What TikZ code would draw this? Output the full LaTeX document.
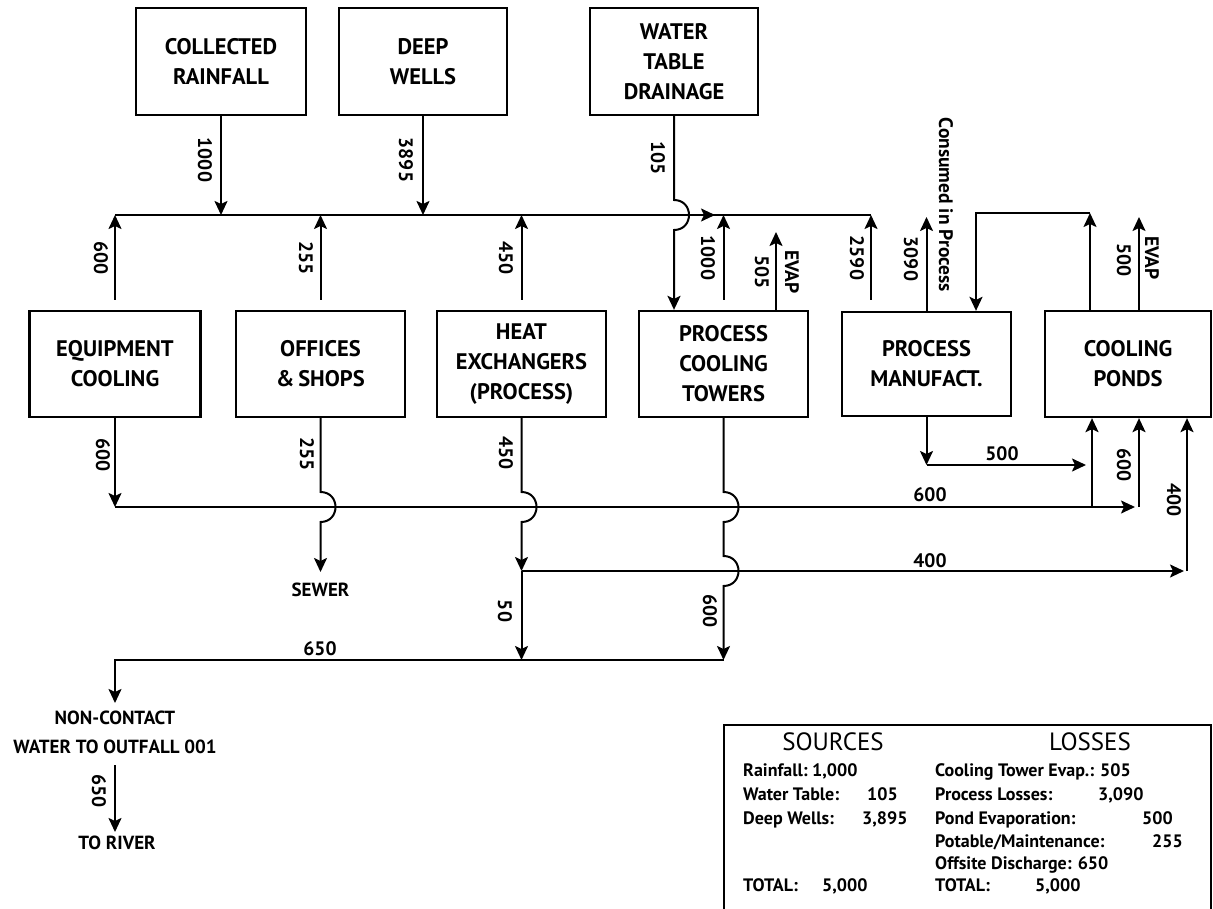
\documentclass[tikz,border=0pt]{standalone}
\usepackage{fontspec}
\setmainfont{PT Sans}
\usetikzlibrary{arrows.meta,calc}
\begin{document}
\begin{tikzpicture}[x=1pt,y=-1pt,
  box/.style={draw,line width=2.3pt,inner sep=0pt,align=center,font=\bfseries\fontsize{22.5}{30}\selectfont},
  arr/.style={line width=2pt,-{Stealth[length=14pt,width=13pt,inset=3pt]}},
  ln/.style={line width=2pt},
  num/.style={font=\bfseries\fontsize{19.5}{24}\selectfont,inner sep=0pt},
  vnum/.style={num,rotate=-90},
  lbl/.style={font=\bfseries\fontsize{19}{29}\selectfont,align=center,inner sep=0pt},
  leg/.style={font=\bfseries\fontsize{18}{22}\selectfont,anchor=base west,inner sep=0pt},
  leghead/.style={font=\fontsize{25}{30}\selectfont,inner sep=0pt},
]
\useasboundingbox (0,0) rectangle (1213,909);

% ---------- boxes ----------
\node[box,minimum width=170pt,minimum height=107pt] (rain)  at (221,61.5) {COLLECTED\\RAINFALL};
\node[box,minimum width=168pt,minimum height=107pt] (wells) at (423,61.5) {DEEP\\WELLS};
\node[box,minimum width=168pt,minimum height=107pt] (wtd)   at (674,61.5) {WATER\\TABLE\\DRAINAGE};

\node[box,minimum width=171pt,minimum height=106pt] (eqc) at (115,364)   {EQUIPMENT\\COOLING};
\node[box,minimum width=169pt,minimum height=106pt] (off) at (320.5,364) {OFFICES\\\&\,SHOPS};
\node[box,minimum width=169pt,minimum height=106pt] (hex) at (521.5,364) {HEAT\\EXCHANGERS\\(PROCESS)};
\node[box,minimum width=169pt,minimum height=106pt] (pct) at (723.5,364) {PROCESS\\COOLING\\TOWERS};
\node[box,minimum width=169pt,minimum height=104pt] (pm)  at (926.5,364) {PROCESS\\MANUFACT.};
\node[box,minimum width=166pt,minimum height=106pt] (cp)  at (1128,364)  {COOLING\\PONDS};

% ---------- header line ----------
\coordinate (hL) at (115,215);
\coordinate (hR) at (871,215);
\coordinate (hA0) at (692,215);
\coordinate (hA) at (715,215);
\draw[ln] (hL) -- (hR);
\draw[arr] (hA0) -- (hA);

\coordinate (rainJ) at (221,215);
\coordinate (wellsJ) at (423,215);
\draw[arr] (rain.south) -- (rainJ);
\draw[arr] (wells.south) -- (wellsJ);

\coordinate (eqcU) at (115,300);
\coordinate (offU) at (320.5,300);
\coordinate (offJ) at (320.5,215);
\coordinate (hexU) at (521.5,300);
\coordinate (hexJ) at (521.5,215);
\draw[arr] (eqcU) -- (hL);
\draw[arr] (offU) -- (offJ);
\draw[arr] (hexU) -- (hexJ);

% water table drainage, jumping over header
\coordinate (wtdA) at (674,200);
\coordinate (wtdB) at (674,230);
\coordinate (pctIn) at (pct.north -| wtd.south);
\draw[arr] (wtd.south) -- (wtdA) .. controls (694,200) and (694,230) .. (wtdB) -- (pctIn);

\coordinate (pctU) at (723.5,300);
\coordinate (pctJ) at (723.5,215);
\draw[arr] (pctU) -- (pctJ);
\coordinate (pctE) at ($(pct.north)+(52.5,0)$);
\coordinate (pctEt) at (776,232);
\draw[arr] (pctE) -- (pctEt);

\coordinate (r2590) at (871,300);
\draw[arr] (r2590) -- (hR);

\coordinate (pmC) at (926.5,217);
\draw[arr] (pm.north) -- (pmC);

\coordinate (loopR) at (1090,213);
\coordinate (loopL) at (976,213);
\coordinate (cpOut) at ($(cp.north)+(-38,0)$);
\coordinate (pmIn) at ($(pm.north)+(49.5,0)$);
\draw[arr] (cpOut) -- (loopR);
\draw[arr] (loopR) -- (loopL) -- (pmIn);

\coordinate (cpE) at ($(cp.north)+(11,0)$);
\coordinate (cpEt) at (1139,217);
\draw[arr] (cpE) -- (cpEt);

% ---------- upper labels ----------
\node[vnum] (l1000a) at (205,160) {1000};
\node[vnum] (l3895) at (406,160) {3895};
\node[vnum] (l105) at (658,158) {105};
\node[vnum] (l600a) at (101,258) {600};
\node[vnum] (l255a) at (306,258) {255};
\node[vnum] (l450a) at (506,258) {450};
\node[vnum] (l1000b) at (708,258) {1000};
\node[vnum] (l505) at (762,272) {505};
\node[vnum] (levap1) at (792,272) {EVAP};
\node[vnum] (l2590) at (857,258) {2590};
\node[vnum] (l3090) at (911,259) {3090};
\node[vnum] (lcons) at (946,205) {Consumed in Process};
\node[vnum] (l500a) at (1124,260) {500};
\node[vnum] (levap2) at (1152,258) {EVAP};

% ---------- lower network ----------
\coordinate (eqcB) at (115,507);
\coordinate (cpArr) at (1135,507);
\draw[arr] (eqc.south) -- (eqcB);
\draw[arr] (eqcB) -- (cpArr);
\coordinate (j1092) at (1092,507);
\coordinate (cpIn1) at ($(cp.south)+(-36,0)$);
\draw[arr] (j1092) -- (cpIn1);
\coordinate (j1139) at (1139,507);
\coordinate (cpIn2) at ($(cp.south)+(11,0)$);
\draw[arr] (j1139) -- (cpIn2);

\coordinate (pmB) at (926.5,465);
\coordinate (pmR) at (1086,465);
\draw[arr] (pm.south) -- (pmB);
\draw[arr] (pmB) -- (pmR);

\node[lbl] (sewer) at (320.5,590) {SEWER};
\coordinate (offA) at (320.5,492);
\coordinate (offB) at (320.5,522);
\coordinate (offE) at (320.5,572);
\draw[arr] (off.south) -- (offA) .. controls (340.5,492) and (340.5,522) .. (offB) -- (offE);

\coordinate (hexA) at (521.5,492);
\coordinate (hexB) at (521.5,522);
\coordinate (hexJ2) at (521.5,571);
\draw[arr] (hex.south) -- (hexA) .. controls (541.5,492) and (541.5,522) .. (hexB) -- (hexJ2);
\coordinate (r400) at (1184,571);
\draw[arr] (hexJ2) -- (r400);
\coordinate (c400) at (1187,571);
\coordinate (cpIn3) at ($(cp.south)+(59,0)$);
\draw[arr] (c400) -- (cpIn3);
\coordinate (hexD) at (521.5,660);
\draw[arr] (hexJ2) -- (hexD);

\coordinate (pctA) at (723.5,492);
\coordinate (pctB) at (723.5,522);
\coordinate (pctC) at (723.5,556);
\coordinate (pctD) at (723.5,586);
\coordinate (pctE2) at (723.5,660);
\draw[arr] (pct.south) -- (pctA) .. controls (743.5,492) and (743.5,522) .. (pctB) -- (pctC)
  .. controls (743.5,556) and (743.5,586) .. (pctD) -- (pctE2);

\coordinate (b650L) at (115,660);
\coordinate (ncTop) at (115,703);
\draw[arr] (pctE2) -- (b650L) -- (ncTop);

\node[lbl] (nc) at (115,732) {NON-CONTACT\\WATER TO OUTFALL 001};
\coordinate (ncB) at (115,765);
\coordinate (riverT) at (115,832);
\draw[arr] (ncB) -- (riverT);
\node[lbl] (river) at (117,843) {TO RIVER};

% ---------- lower labels ----------
\node[vnum] (l600b) at (103,455) {600};
\node[vnum] (l255b) at (307,454) {255};
\node[vnum] (l450b) at (506,453) {450};
\node[vnum] (l50) at (505,611) {50};
\node[vnum] (l600c) at (710,611) {600};
\node[vnum] (l600d) at (1124,465) {600};
\node[vnum] (l400v) at (1174,500) {400};
\node[vnum] (l650v) at (99,791) {650};
\node[num] (l500h) at (1002,454) {500};
\node[num] (l600h) at (930,495) {600};
\node[num] (l400h) at (930,561) {400};
\node[num] (l650h) at (320,649) {650};

% ---------- legend ----------
\draw[line width=2pt] (724,725) rectangle (1211,920);
\node[leghead] (src) at (833,742) {SOURCES};
\node[leghead] (los) at (1090,742) {LOSSES};

\node[leg] (s1) at (743,776) {Rainfall:};
\node[leg] (s1v) at (812,776) {1,000};
\node[leg] (s2) at (743,800) {Water Table:};
\node[leg] (s2v) at (867,800) {105};
\node[leg] (s3) at (743,824) {Deep Wells:};
\node[leg] (s3v) at (862,824) {3,895};
\node[leg] (s4) at (743,891) {TOTAL:};
\node[leg] (s4v) at (822,891) {5,000};

\node[leg] (o1) at (935,776) {Cooling Tower Evap.: 505};
\node[leg] (o2) at (935,800) {Process Losses:};
\node[leg] (o2v) at (1098,800) {3,090};
\node[leg] (o3) at (935,824) {Pond Evaporation:};
\node[leg] (o3v) at (1142,824) {500};
\node[leg] (o4) at (935,847) {Potable/Maintenance:};
\node[leg] (o4v) at (1152,847) {255};
\node[leg] (o5) at (935,869) {Offsite Discharge: 650};
\node[leg] (o6) at (935,891) {TOTAL:};
\node[leg] (o6v) at (1035,891) {5,000};
\end{tikzpicture}
\end{document}
